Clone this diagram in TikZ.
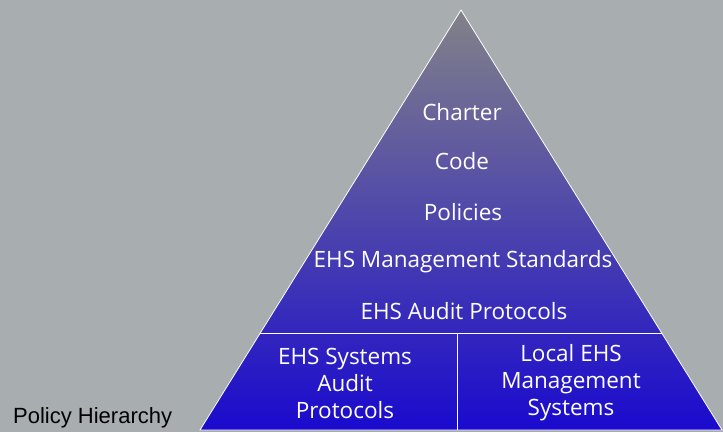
\documentclass[tikz,border=0pt]{standalone}
\usepackage{fontspec}
\setmainfont{Open Sans}
\newfontfamily\labelfont{Liberation Sans}
\usetikzlibrary{calc}
\definecolor{bggray}{RGB}{168,173,176}
\definecolor{topgray}{RGB}{130,130,136}
\definecolor{baseblue}{RGB}{26,10,206}
\tikzset{
  level/.style={text=white,font=\fontsize{22.5}{27}\selectfont,align=center},
  divider/.style={draw=white,line width=1pt}
}
\begin{document}
\begin{tikzpicture}[x=1pt,y=-1pt]
\fill[bggray] (0,0) rectangle (723,432);
\coordinate (apex) at (461,10);
\coordinate (bl) at (200,430);
\coordinate (br) at (722,430);
\coordinate (ml) at ($(apex)!0.771!(bl)$);
\coordinate (mr) at ($(apex)!0.771!(br)$);
\coordinate (mt) at (457,334);
\coordinate (mb) at (457,430);
\shade[top color=topgray,bottom color=baseblue] (apex) -- (bl) -- (br) -- cycle;
\draw[divider,line width=0.8pt] (apex) -- (bl) -- (br) -- cycle;
\draw[divider] (ml) -- (mr);
\draw[divider] (mt) -- (mb);
\node[level] (charter) at (462,112) {Charter};
\node[level] (code) at (462,161) {Code};
\node[level] (policies) at (463,212) {Policies};
\node[level] (standards) at (463,262) {EHS Management Standards};
\node[level] (audit) at (464,311) {EHS Audit Protocols};
\node[level] (systems) at (345,383) {EHS Systems\\Audit\\Protocols};
\node[level] (local) at (571,383) {Local EHS\\Management\\Systems};
\node[font=\labelfont\fontsize{22}{24}\selectfont,anchor=west,inner sep=0pt] (title) at (13,418) {Policy Hierarchy};
\end{tikzpicture}
\end{document}
